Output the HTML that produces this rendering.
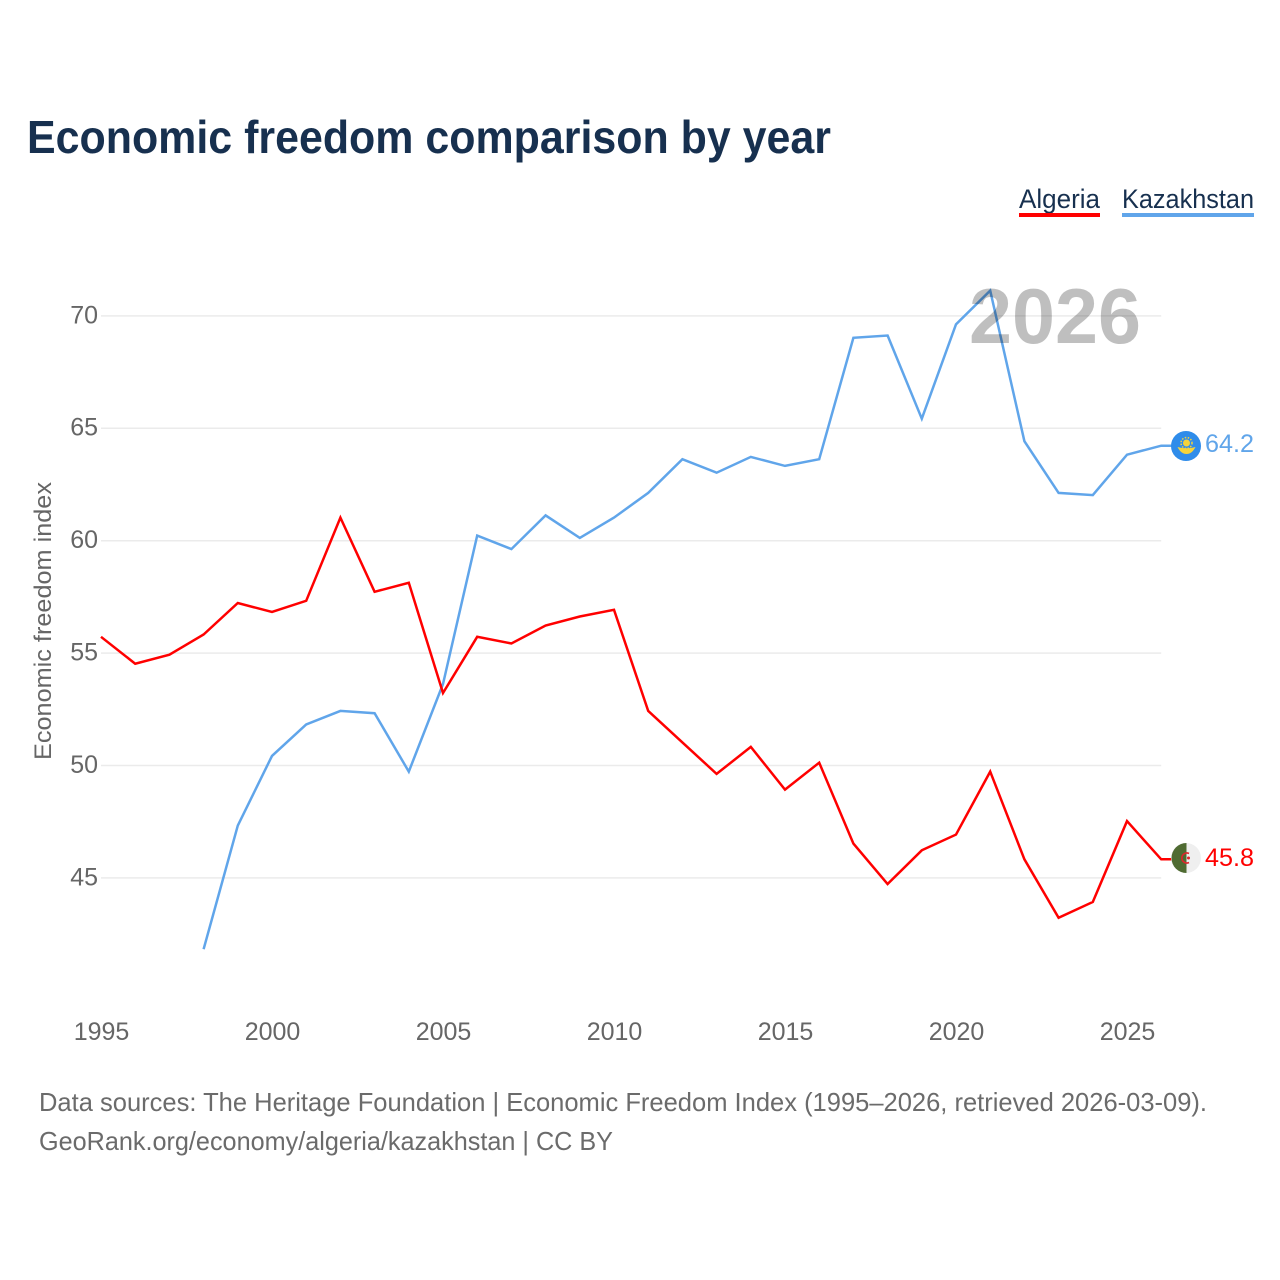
<!DOCTYPE html>
<html lang="en">
<head>
<meta charset="utf-8">
<title>Economic freedom comparison by year</title>
<style>
html,body{margin:0;padding:0;background:#fff;}
svg{display:block;font-family:"Liberation Sans",sans-serif;}
</style>
</head>
<body>
<svg id="chart" xmlns="http://www.w3.org/2000/svg" width="1280" height="1280" viewBox="0 0 1280 1280">
  <rect x="0" y="0" width="1280" height="1280" fill="#ffffff"/>
  <text x="27" y="153" font-size="46" font-weight="700" fill="#17304f" textLength="804" lengthAdjust="spacingAndGlyphs">Economic freedom comparison by year</text>

  <g>
    <g>
      <text x="1019" y="208" font-size="27" fill="#17304f" textLength="81" lengthAdjust="spacingAndGlyphs">Algeria</text>
      <rect x="1019" y="213" width="81" height="4" fill="#ff0000"/>
    </g>
    <g>
      <text x="1122" y="208" font-size="27" fill="#17304f" textLength="132" lengthAdjust="spacingAndGlyphs">Kazakhstan</text>
      <rect x="1122" y="213" width="132" height="4" fill="#60a5ea"/>
    </g>
  </g>

  <g id="grid"></g>
  <g id="yticks"></g>
  <g id="xticks"></g>
  <text transform="translate(51,760) rotate(-90)" x="0" y="0" font-size="24" fill="#666666" textLength="278" lengthAdjust="spacingAndGlyphs">Economic freedom index</text>
  <g id="series"></g>
  <text x="969" y="343" font-size="78" font-weight="700" fill="#000000" fill-opacity="0.25" textLength="172" lengthAdjust="spacingAndGlyphs">2026</text>

  <g id="flag-kz">
    <circle cx="1186" cy="446" r="15" fill="#2f8cea"/>
    <circle cx="1186.500" cy="443" r="5.500" fill="none" stroke="#f5d33a" stroke-width="1.500" stroke-dasharray="1.500 1.500"/>
    <circle cx="1186.500" cy="443" r="3.500" fill="#f5d33a"/>
    <path d="M1177.500 447 Q1186.500 449.500 1195.500 447 Q1192 454 1186.500 454 Q1181 454 1177.500 447Z" fill="#f5d33a"/>
  </g>
  <g id="flag-dz">
    <circle cx="1186" cy="858" r="15" fill="#efefef"/>
    <path d="M1186.500 843 A15 15 0 0 0 1186.500 873 Z" fill="#4f6b32"/>
    <path d="M1189 853.500 A5 5 0 1 0 1189 862.500" fill="none" stroke="#e0242c" stroke-width="1.600"/>
    <circle cx="1188.500" cy="858" r="1.500" fill="#e0242c"/>
  </g>
  <text id="value-kz" x="1205" y="452" font-size="25" fill="#60a5ea" textLength="49" lengthAdjust="spacingAndGlyphs"></text>
  <text id="value-dz" x="1205" y="866" font-size="25" fill="#ff0000" textLength="49" lengthAdjust="spacingAndGlyphs"></text>

  <g>
    <text x="39" y="1111" font-size="26" fill="#6b6b6b" textLength="1168" lengthAdjust="spacingAndGlyphs">Data sources: The Heritage Foundation | Economic Freedom Index (1995–2026, retrieved 2026-03-09).</text>
    <text x="39" y="1150" font-size="26" fill="#6b6b6b" textLength="574" lengthAdjust="spacingAndGlyphs">GeoRank.org/economy/algeria/kazakhstan | CC BY</text>
  </g>
</svg>

<script>
const years = [1995,1996,1997,1998,1999,2000,2001,2002,2003,2004,2005,2006,2007,2008,2009,2010,2011,2012,2013,2014,2015,2016,2017,2018,2019,2020,2021,2022,2023,2024,2025,2026];
const algeriaValues = [55.7,54.5,54.9,55.8,57.2,56.8,57.3,61.0,57.7,58.1,53.2,55.7,55.4,56.2,56.6,56.9,52.4,51.0,49.6,50.8,48.9,50.1,46.5,44.7,46.2,46.9,49.7,45.8,43.2,43.9,47.5,45.8];
const kazakhstanValues = [null,null,null,41.8,47.3,50.4,51.8,52.4,52.3,49.7,53.6,60.2,59.6,61.1,60.1,61.0,62.1,63.6,63.0,63.7,63.3,63.6,69.0,69.1,65.4,69.6,71.1,64.4,62.1,62.0,63.8,64.2];
const yTickValues = [45,50,55,60,65,70];
const xTickValues = [1995,2000,2005,2010,2015,2020,2025];

const SVG_NS = 'http://www.w3.org/2000/svg';
const xScale = function (year) { return 101 + (year - 1995) * 34.2; };
const yScale = function (value) { return 877.3 - (value - 45) * 22.48; };
const flagEdgeX = 1172;

const gridGroup = document.getElementById('grid');
const yTickGroup = document.getElementById('yticks');
const xTickGroup = document.getElementById('xticks');
const seriesGroup = document.getElementById('series');

yTickValues.forEach(function (tick) {
  const line = document.createElementNS(SVG_NS, 'line');
  
  
  line.setAttribute('x1', xScale(1995));
  line.setAttribute('x2', xScale(2026));
  line.setAttribute('y1', yScale(tick) + 0.6);
  line.setAttribute('y2', yScale(tick) + 0.6);
  line.setAttribute('stroke', '#ebebeb');
  line.setAttribute('stroke-width', '1.5');
  gridGroup.appendChild(line);

  const label = document.createElementNS(SVG_NS, 'text');
  
  
  label.setAttribute('x', 98);
  label.setAttribute('y', yScale(tick) + 8);
  label.setAttribute('text-anchor', 'end');
  label.setAttribute('font-size', '25');
  label.setAttribute('fill', '#666666');
  label.textContent = tick;
  yTickGroup.appendChild(label);
});

xTickValues.forEach(function (tick) {
  const label = document.createElementNS(SVG_NS, 'text');
  
  
  label.setAttribute('x', xScale(tick) + 0.5);
  label.setAttribute('y', 1040);
  label.setAttribute('text-anchor', 'middle');
  label.setAttribute('font-size', '25');
  label.setAttribute('fill', '#666666');
  label.textContent = tick;
  xTickGroup.appendChild(label);
});

function linePath(values) {
  let d = '';
  let lastY = 0;
  values.forEach(function (value, i) {
    if (value === null) { return; }
    lastY = yScale(value);
    d += (d === '' ? 'M' : 'L') + xScale(years[i]).toFixed(1) + ' ' + lastY.toFixed(1) + ' ';
  });
  d += 'L' + flagEdgeX + ' ' + lastY.toFixed(1);
  return d;
}

const kazakhstanLine = document.createElementNS(SVG_NS, 'path');


kazakhstanLine.setAttribute('d', linePath(kazakhstanValues));
kazakhstanLine.setAttribute('fill', 'none');
kazakhstanLine.setAttribute('stroke', '#60a5ea');
kazakhstanLine.setAttribute('stroke-width', '2.5');
seriesGroup.appendChild(kazakhstanLine);

const algeriaLine = document.createElementNS(SVG_NS, 'path');


algeriaLine.setAttribute('d', linePath(algeriaValues));
algeriaLine.setAttribute('fill', 'none');
algeriaLine.setAttribute('stroke', '#ff0000');
algeriaLine.setAttribute('stroke-width', '2.5');
seriesGroup.appendChild(algeriaLine);

document.getElementById('value-kz').textContent = kazakhstanValues[kazakhstanValues.length - 1].toFixed(1);
document.getElementById('value-dz').textContent = algeriaValues[algeriaValues.length - 1].toFixed(1);
</script>
</body>
</html>
